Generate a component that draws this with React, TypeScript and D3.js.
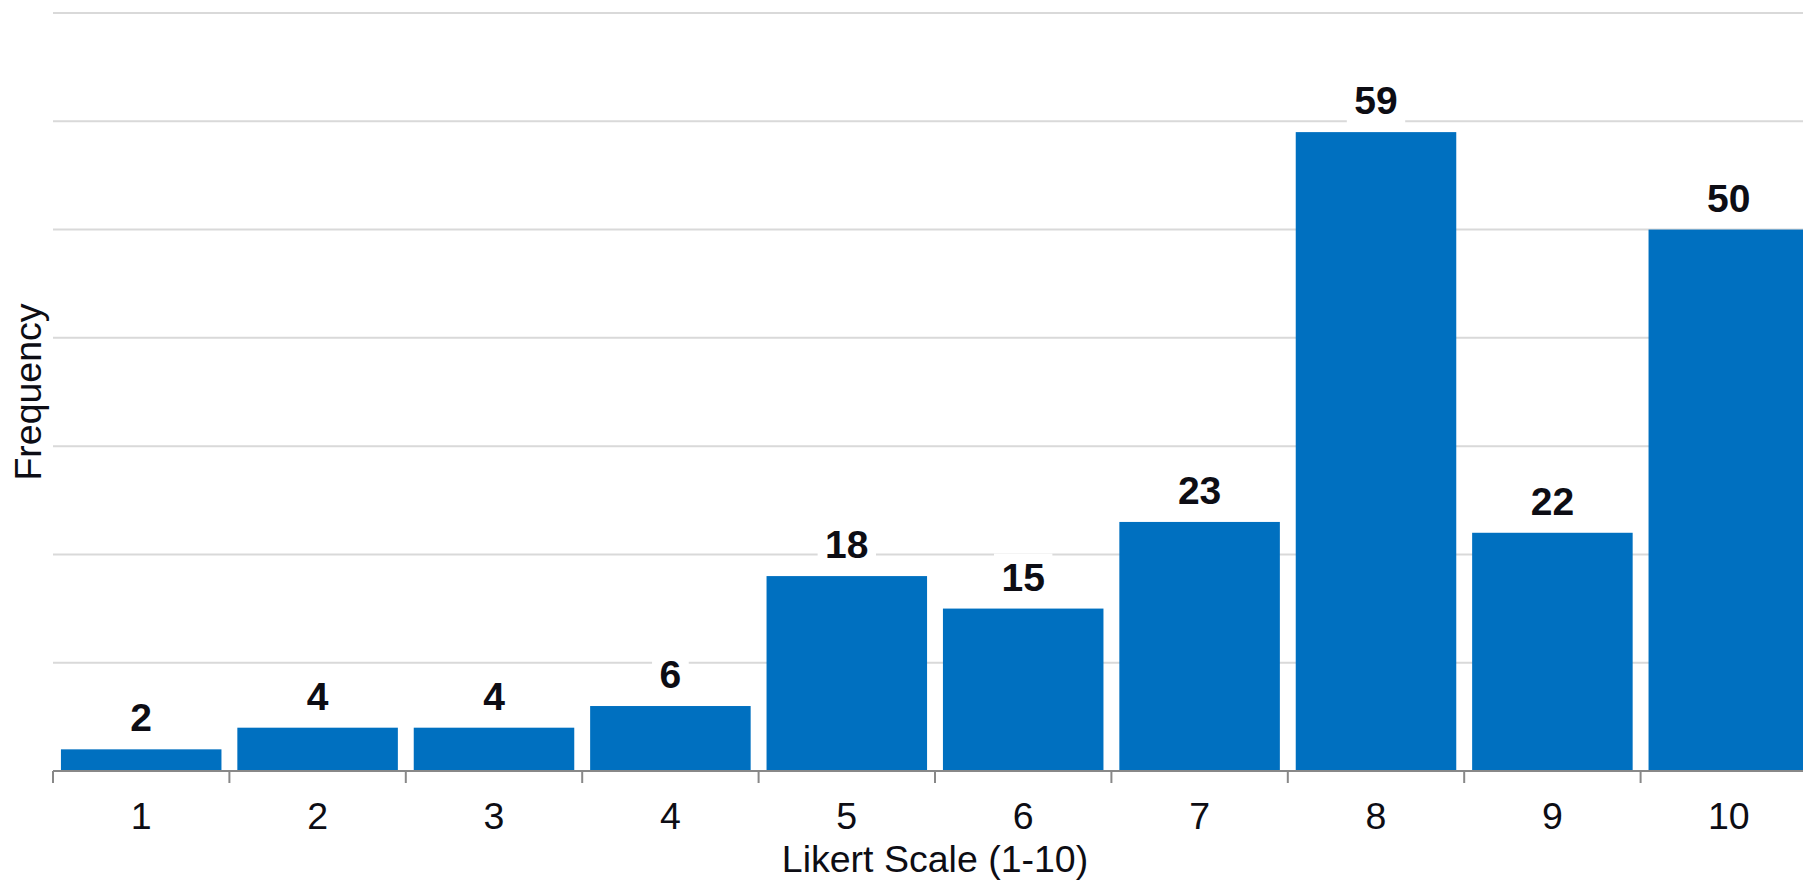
import React from "react";
import * as d3 from "d3";

const categories: string[] = ["1", "2", "3", "4", "5", "6", "7", "8", "9", "10"];
const frequencies: number[] = [2, 4, 4, 6, 18, 15, 23, 59, 22, 50];
const gridValues: number[] = [10, 20, 30, 40, 50, 60, 70];
const xTitle = "Likert Scale (1-10)";
const yTitle = "Frequency";

const W = 1803;
const H = 888;
const left = 53;
const right = 1817;
const baseY = 771;
const topY = 13;
const FONT = "'Liberation Sans', Arial, Helvetica, sans-serif";
const LABEL_SIZE = 39;

export default function App() {
  const x = d3
    .scaleBand<string>()
    .domain(categories)
    .range([left, right])
    .paddingInner(0.09)
    .paddingOuter(0.045);
  const y = d3.scaleLinear().domain([0, 70]).range([baseY, topY]);
  const step = x.step();
  const bw = x.bandwidth();
  const tickXs = d3.range(categories.length + 1).map((i) => left + i * step);

  return (
    <svg
      width={W}
      height={H}
      style={{ position: "absolute", left: 0, top: 0, background: "#fff" }}
    >
      <rect x={0} y={0} width={W} height={H} fill="#fff" />
      {gridValues.map((v) => (
        <line
          key={"g" + v}
          x1={left}
          x2={right}
          y1={y(v)}
          y2={y(v)}
          stroke="#d9d9d9"
          strokeWidth={2}
        />
      ))}
      {categories.map((c, i) => {
        const v = frequencies[i];
        const bx = x(c)!;
        const top = y(v);
        const cx = bx + bw / 2;
        const label = String(v);
        const tw = label.length * 0.556 * LABEL_SIZE;
        const baseline = top - 18;
        return (
          <g key={"b" + c}>
            <rect x={bx} y={top} width={bw} height={baseY - 1 - top} fill="#0070c0" />
            <rect
              x={cx - tw / 2 - 7.5}
              y={baseline - 37}
              width={tw + 15}
              height={46}
              fill="#fff"
            />
            <text
              x={cx}
              y={baseline}
              textAnchor="middle"
              fontFamily={FONT}
              fontWeight="bold"
              fontSize={LABEL_SIZE}
              fill="#0d0d14"
            >
              {label}
            </text>
          </g>
        );
      })}
      <line x1={left} x2={right} y1={baseY} y2={baseY} stroke="#888" strokeWidth={2} />
      {tickXs.map((tx, i) => (
        <line
          key={"t" + i}
          x1={tx}
          x2={tx}
          y1={baseY}
          y2={baseY + 12}
          stroke="#888"
          strokeWidth={2}
        />
      ))}
      {categories.map((c) => (
        <text
          key={"l" + c}
          x={x(c)! + bw / 2}
          y={829}
          textAnchor="middle"
          fontFamily={FONT}
          fontSize={37.5}
          fill="#0d0d14"
        >
          {c}
        </text>
      ))}
      <text
        x={(left + right) / 2}
        y={872}
        textAnchor="middle"
        fontFamily={FONT}
        fontSize={37.5}
        fill="#0d0d14"
      >
        {xTitle}
      </text>
      <text
        transform={`translate(41, ${(baseY + topY) / 2}) rotate(-90)`}
        textAnchor="middle"
        fontFamily={FONT}
        fontSize={37.5}
        fill="#0d0d14"
      >
        {yTitle}
      </text>
    </svg>
  );
}
